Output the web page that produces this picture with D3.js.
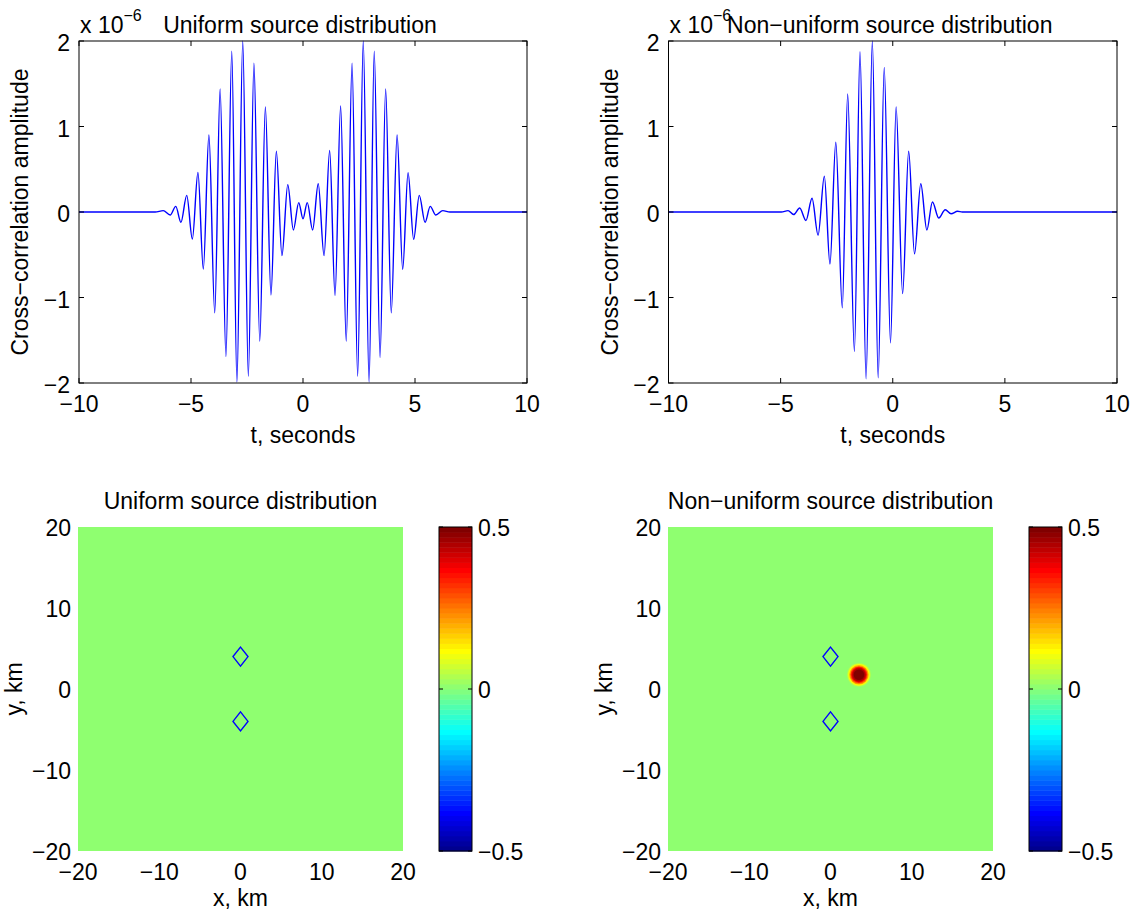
<!DOCTYPE html>
<html><head><meta charset="utf-8">
<script src="https://cdn.jsdelivr.net/npm/d3@7"></script>
<style>
body{margin:0;background:#fff}
text{font-family:"Liberation Sans",Arial,Helvetica,sans-serif;fill:#000}
</style>
</head><body>
<svg id="c" width="1135" height="915"></svg>
<script>
// ---------- data ----------
const timeTicks = [-10, -5, 0, 5, 10];
const ampTicks = [-2, -1, 0, 1, 2];
const kmTicks = [-20, -10, 0, 10, 20];
const cbTicks = [-0.5, 0, 0.5];
const cbTickLabels = ["\u22120.5", "0", "0.5"];

// cross-correlation (x 1e-6), extrema
const uniformT = [-10, -6.6, -6.24, -5.93, -5.68, -5.45, -5.19, -4.94, -4.69, -4.45, -4.20, -3.94, -3.70, -3.44, -3.18, -2.95, -2.69, -2.44, -2.19, -1.93, -1.68, -1.43, -1.19, -0.94, -0.68, -0.43, -0.19, 0.0, 0.19, 0.43, 0.68, 0.94, 1.19, 1.43, 1.68, 1.93, 2.19, 2.44, 2.69, 2.95, 3.18, 3.44, 3.69, 3.94, 4.20, 4.45, 4.69, 4.94, 5.19, 5.45, 5.68, 5.93, 6.24, 6.56, 10];
const uniformV = [0, 0, 0.016, -0.035, 0.066, -0.12, 0.195, -0.316, 0.464, -0.667, 0.90, -1.18, 1.44, -1.69, 1.88, -1.99, 2.0, -1.92, 1.74, -1.51, 1.23, -0.97, 0.71, -0.51, 0.32, -0.21, 0.11, -0.08, 0.11, -0.21, 0.33, -0.51, 0.72, -0.975, 1.24, -1.51, 1.74, -1.92, 2.0, -1.99, 1.88, -1.70, 1.44, -1.18, 0.90, -0.67, 0.46, -0.32, 0.195, -0.12, 0.066, -0.035, 0.016, 0, 0];

const nonuniformT = [-10, -4.97, -4.67, -4.42, -4.15, -3.87, -3.60, -3.33, -3.05, -2.80, -2.54, -2.25, -2.01, -1.71, -1.46, -1.19, -0.91, -0.65, -0.38, -0.10, 0.15, 0.44, 0.71, 0.97, 1.25, 1.52, 1.77, 2.05, 2.34, 2.60, 2.89, 3.1, 10];
const nonuniformV = [0, 0, 0.016, -0.03, 0.047, -0.10, 0.16, -0.27, 0.42, -0.61, 0.815, -1.12, 1.38, -1.63, 1.875, -1.95, 2.0, -1.94, 1.69, -1.53, 1.23, -0.955, 0.71, -0.49, 0.33, -0.21, 0.117, -0.07, 0.027, -0.02, 0.008, 0, 0];

// source maps
const backgroundValue = 0;
const receiverX = [0, 0];
const receiverY = [4, -4];
const blobCenterX = [3.5];
const blobCenterY = [1.75];
const blobRadius = [1.6, 1.5, 1.4, 1.3, 1.2, 1.1, 1.0, 0.9, 0.8, 0.65];   // km
const blobValue  = [0.0, 0.03, 0.07, 0.12, 0.19, 0.26, 0.33, 0.40, 0.45, 0.49];

const topTitles = ["Uniform source distribution", "Non\u2212uniform source distribution"];
const botTitles = ["Uniform source distribution", "Non\u2212uniform source distribution"];

// ---------- helpers ----------
const svg = d3.select("#c");
const FS = 23;
function jet(v){
  let i = Math.floor((v + 0.5) * 64);
  i = Math.max(0, Math.min(63, i));
  const x = (i + 1) / 64;
  const c = t => Math.max(0, Math.min(1, t));
  return d3.rgb(255*c(1.5-Math.abs(4*x-3)), 255*c(1.5-Math.abs(4*x-2)), 255*c(1.5-Math.abs(4*x-1))).formatHex();
}
const minus = s => String(s).replace("-", "\u2212");

// ---------- top line plots ----------
function linePlot(L, R, T, B, ts, vs, title){
  const g = svg.append("g");
  const x = d3.scaleLinear().domain([-10, 10]).range([L, R]);
  const y = d3.scaleLinear().domain([-2, 2]).range([B, T]);
  const clipId = "clip" + Math.round(L);
  svg.append("clipPath").attr("id", clipId).append("rect")
    .attr("x", L).attr("y", T-1).attr("width", R-L).attr("height", B-T+2);
  const pts = ts.map((t, i) => [t, vs[i]]);
  g.append("path").datum(pts)
    .attr("clip-path", `url(#${clipId})`)
    .attr("d", d3.line().x(d => x(d[0])).y(d => y(d[1])).curve(d3.curveMonotoneX))
    .attr("fill", "none").attr("stroke", "#0000ff").attr("stroke-width", 1.4);
  g.append("rect").attr("x", L).attr("y", T).attr("width", R-L).attr("height", B-T)
    .attr("fill", "none").attr("stroke", "#000").attr("stroke-width", 1);
  const tl = 5;
  timeTicks.forEach(t => {
    const px = x(t);
    g.append("line").attr("x1", px).attr("x2", px).attr("y1", B).attr("y2", B-tl).attr("stroke", "#000");
    g.append("line").attr("x1", px).attr("x2", px).attr("y1", T).attr("y2", T+tl).attr("stroke", "#000");
    g.append("text").attr("x", px).attr("y", B+29).attr("text-anchor", "middle")
      .attr("font-size", FS).text(minus(t));
  });
  ampTicks.forEach(v => {
    const py = y(v);
    g.append("line").attr("x1", L).attr("x2", L+tl).attr("y1", py).attr("y2", py).attr("stroke", "#000");
    g.append("line").attr("x1", R).attr("x2", R-tl).attr("y1", py).attr("y2", py).attr("stroke", "#000");
    g.append("text").attr("x", L-9).attr("y", py+2).attr("dy", "0.35em").attr("text-anchor", "end")
      .attr("font-size", FS).text(minus(v));
  });
  g.append("text").attr("x", (L+R)/2).attr("y", B+60).attr("text-anchor", "middle")
    .attr("font-size", FS).text("t, seconds");
  g.append("text").attr("transform", `translate(${L-51},${(T+B)/2}) rotate(-90)`)
    .attr("text-anchor", "middle").attr("font-size", FS).text("Cross\u2212correlation amplitude");
  // exponent
  const ex = g.append("text").attr("x", L+1).attr("y", T-8).attr("font-size", FS);
  ex.append("tspan").text("x 10");
  ex.append("tspan").attr("dy", -12).attr("font-size", 16).text("\u22126");
  g.append("text").attr("x", (L+R)/2 - 3).attr("y", T-8).attr("text-anchor", "middle")
    .attr("font-size", FS).text(title);
}
linePlot(79, 527, 41, 383, uniformT, uniformV, topTitles[0]);
linePlot(668.5, 1117, 41, 383, nonuniformT, nonuniformV, topTitles[1]);

// ---------- bottom maps ----------
function mapPlot(L, R, T, B, cbL, cbR, withBlob, title){
  const g = svg.append("g");
  const x = d3.scaleLinear().domain([-20, 20]).range([L, R]);
  const y = d3.scaleLinear().domain([-20, 20]).range([B, T]);
  g.append("rect").attr("x", L).attr("y", T).attr("width", R-L).attr("height", B-T)
    .attr("fill", jet(backgroundValue));
  if (withBlob){
    const k = (x(1) - x(0));
    blobCenterX.forEach((cx, j) => {
      blobRadius.forEach((r, i) => {
        g.append("circle").attr("cx", x(cx)).attr("cy", y(blobCenterY[j]))
          .attr("r", r * k).attr("fill", jet(blobValue[i]));
      });
    });
  }
  // receivers (diamonds)
  receiverX.forEach((rx, i) => {
    const cx = x(rx), cy = y(receiverY[i]);
    const hw = 7.5, hh = 9.5;
    g.append("path").attr("d", `M${cx},${cy-hh}L${cx+hw},${cy}L${cx},${cy+hh}L${cx-hw},${cy}Z`)
      .attr("fill", "none").attr("stroke", "#0000ff").attr("stroke-width", 1.4);
  });
  kmTicks.forEach(t => {
    g.append("text").attr("x", x(t)).attr("y", B+29).attr("text-anchor", "middle")
      .attr("font-size", FS).text(minus(t));
    g.append("text").attr("x", L-7).attr("y", y(t)+1).attr("dy", "0.35em").attr("text-anchor", "end")
      .attr("font-size", FS).text(minus(t));
  });
  g.append("text").attr("x", (L+R)/2).attr("y", B+55).attr("text-anchor", "middle")
    .attr("font-size", FS).text("x, km");
  g.append("text").attr("transform", `translate(${L-56},${(T+B)/2}) rotate(-90)`)
    .attr("text-anchor", "middle").attr("font-size", FS).text("y, km");
  g.append("text").attr("x", (L+R)/2).attr("y", T-18).attr("text-anchor", "middle")
    .attr("font-size", FS).text(title);
  // colorbar
  const cy = d3.scaleLinear().domain([-0.5, 0.5]).range([B, T]);
  const bands = d3.range(64).map(i => -0.5 + i/64);
  g.selectAll(null).data(bands).join("rect")
    .attr("x", cbL).attr("width", cbR-cbL)
    .attr("y", d => cy(d + 1/64)).attr("height", d => cy(d) - cy(d + 1/64) + 0.5)
    .attr("fill", d => jet(d + 0.5/64));
  g.append("rect").attr("x", cbL).attr("y", T).attr("width", cbR-cbL).attr("height", B-T)
    .attr("fill", "none").attr("stroke", "#000").attr("stroke-width", 1);
  cbTicks.forEach((v, i) => {
    const py = cy(v);
    g.append("line").attr("x1", cbL).attr("x2", cbL+4).attr("y1", py).attr("y2", py).attr("stroke", "#000");
    g.append("line").attr("x1", cbR).attr("x2", cbR-4).attr("y1", py).attr("y2", py).attr("stroke", "#000");
    g.append("text").attr("x", cbR+6).attr("y", py+1).attr("dy", "0.35em")
      .attr("font-size", FS).text(cbTickLabels[i]);
  });
}
mapPlot(78, 403, 527, 851, 439, 472, false, botTitles[0]);
mapPlot(668, 993, 527, 851, 1029, 1062, true, botTitles[1]);
</script>
</body></html>
